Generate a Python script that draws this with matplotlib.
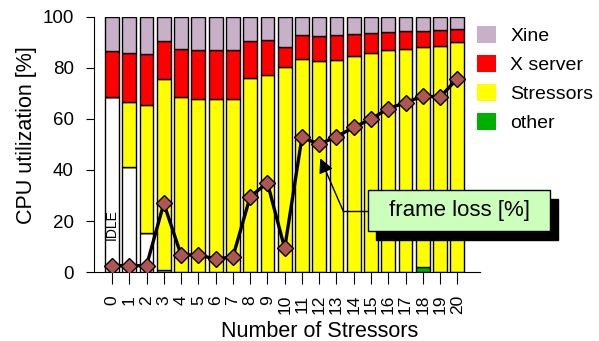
import numpy as np
import matplotlib
matplotlib.use("Agg")
import matplotlib.pyplot as plt
from matplotlib.patches import Patch, Rectangle

plt.rcParams['font.family'] = ['Liberation Sans', 'DejaVu Sans']

# Anteile der CPU-Zeit pro Anzahl Stressoren (Prozent)
n_stressors = list(range(21))
idle = [68.5, 41.3, 15.4, 0.8, 0, 0, 0, 0, 0, 0, 0, 0, 0, 0, 0, 0, 0, 0, 0, 0, 0]
other = [0, 0, 0, 0, 0, 0, 0, 0, 0, 0, 0, 0, 0, 0, 0, 0, 0, 0, 2.0, 0, 0]
stressors = [0, 25.4, 50.1, 75.0, 68.5, 68.0, 67.8, 67.8, 76.1, 77.4, 80.4,
             83.5, 82.6, 83.3, 84.7, 85.8, 86.9, 87.6, 86.2, 88.5, 90.2]
xserver = [18.2, 19.3, 19.9, 14.8, 19.0, 18.9, 19.4, 19.3, 14.4, 13.4, 7.7,
           9.6, 10.1, 9.6, 8.8, 8.1, 7.3, 6.8, 6.4, 6.3, 5.1]
xine = [13.3, 14.0, 14.6, 9.4, 12.5, 13.1, 12.8, 12.9, 9.5, 9.2, 11.9,
        6.9, 7.3, 7.1, 6.5, 6.1, 5.8, 5.6, 5.4, 5.2, 4.7]
frame_loss = [2.5, 2.5, 2.5, 26.9, 6.7, 6.7, 5.1, 5.9, 29.5, 35.0, 9.3,
              52.8, 50.1, 53.1, 56.7, 60.0, 64.1, 66.4, 69.0, 68.6, 75.8]

c_xine = '#c8b0c8'
c_xserver = '#ff0000'
c_stress = '#ffff00'
c_other = '#00b000'

fig = plt.figure(figsize=(5.99, 3.41), dpi=100)
ax = fig.add_axes([0.157, 0.2023, 0.644, 0.748])

x = np.array(n_stressors)
w = 0.8
bottom = np.zeros(len(x))
for vals, col in [(idle, 'white'), (other, c_other), (stressors, c_stress),
                  (xserver, c_xserver), (xine, c_xine)]:
    ax.bar(x, vals, w, bottom=bottom, color=col, edgecolor='black', linewidth=1.0, zorder=2)
    bottom += np.array(vals)

ax.text(0, 18.5, 'IDLE', rotation=90, ha='center', va='center', fontsize=10, zorder=3)

# Frameverlust als Linie mit Rauten
ax.plot(x, frame_loss, color='black', linewidth=2.4, marker='D', markersize=8,
        markerfacecolor='#b05555', markeredgecolor='black', markeredgewidth=1.0, zorder=4)

ax.set_xlim(-1.04, 21.3)
ax.set_ylim(0, 100)
ax.set_xticks(x)
ax.set_xticklabels([str(i) for i in n_stressors], rotation=90, fontsize=12.5)
ax.set_yticks([0, 20, 40, 60, 80, 100])
ax.tick_params(axis='y', labelsize=13.5, length=6, pad=8.5)
ax.tick_params(axis='x', length=8.5, pad=8)
ax.spines['top'].set_visible(False)
ax.spines['right'].set_visible(False)
ax.set_xlabel('Number of Stressors', fontsize=15.5, va='baseline')
ax.xaxis.set_label_coords(0.585, -0.253, transform=ax.transAxes)
ax.set_ylabel('CPU utilization [%]', fontsize=15.5)
ax.yaxis.set_label_coords(-0.148, 0.537, transform=ax.transAxes)

# Kasten "frame loss" mit Schatten und Pfeil
bx0, bx1, by0, by1 = 14.84, 25.39, 16.1, 32.2
ax.add_patch(Rectangle((bx0 + 0.46, by0 - 3.5), bx1 - bx0, by1 - by0,
                       facecolor='black', edgecolor='black', clip_on=False, zorder=5))
ax.add_patch(Rectangle((bx0, by0), bx1 - bx0, by1 - by0,
                       facecolor='#ccffbb', edgecolor='black', linewidth=1.0, clip_on=False, zorder=6))
ax.text((bx0 + bx1) / 2, (by0 + by1) / 2, 'frame loss [%]', ha='center', va='center',
        fontsize=16, zorder=7)
ax.plot([13.39, bx0], [23.9, 23.9], color='black', linewidth=1.0, clip_on=False, zorder=5)
ax.annotate('', xy=(12.06, 44.6), xytext=(13.39, 23.9),
            arrowprops=dict(arrowstyle='-|>', color='black', lw=1.0,
                            mutation_scale=22, shrinkA=0, shrinkB=0), zorder=5)

handles = [Patch(facecolor=c, edgecolor='none') for c in (c_xine, c_xserver, c_stress, c_other)]
fig.legend(handles, ['Xine', 'X server', 'Stressors', 'other'], loc='upper left',
           bbox_to_anchor=(0.767, 0.975), frameon=False, fontsize=14,
           handlelength=0.97, handleheight=0.97, handletextpad=0.75, labelspacing=0.5)

fig.savefig('out.png', dpi=100)
